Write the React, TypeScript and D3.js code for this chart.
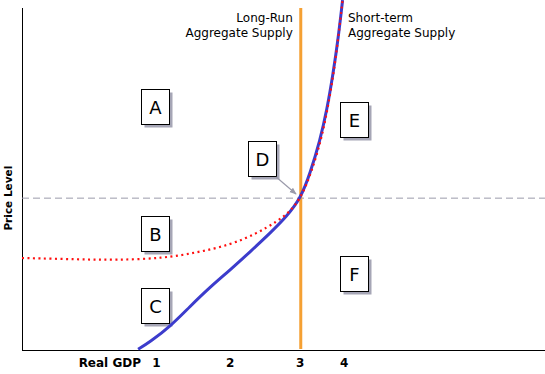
import React from 'react'
import * as d3 from 'd3'

// chart units: x 0..100 across the plot, y 0..100 up the plot
const gdpTicks = ['1', '2', '3', '4']
const gdpTickPos = [25.7, 39.8, 53.2, 61.6]

const lrasX = 53.3
const priceLevel = 44.4

// short-run aggregate supply (blue)
const srasX = [22.2, 24.5, 28.3, 32.1, 35.9, 39.8, 43.6, 47.4, 50.6, 53.3, 55.1, 57.0, 58.3, 59.5, 60.5, 61.3]
const srasY = [0.2, 2.4, 6.8, 12.7, 18.3, 23.4, 28.7, 34.1, 39.0, 44.4, 51.7, 61.4, 70.2, 80.9, 91.6, 102.3]

// dotted red curve
const dotX = [0, 11.1, 17.8, 27.0, 33.4, 39.8, 44.9, 48.7, 51.2, 53.3, 55.3, 57.2, 58.4, 59.6, 60.5, 61.3]
const dotY = [26.9, 26.5, 26.3, 26.8, 28.5, 30.7, 34.1, 37.5, 40.4, 44.4, 51.7, 61.4, 70.2, 80.9, 91.6, 102.3]

const boxLabels = ['A', 'B', 'C', 'D', 'E', 'F']
const boxX = [25.4, 25.4, 25.4, 45.9, 63.5, 63.5]
const boxY = [71.2, 34.1, 13.0, 56.1, 67.3, 22.5]

const arrowFrom = [48.6, 50.6]
const arrowTo = [52.4, 45.6]

function App() {
  const width = 545
  const height = 374
  const margin = { top: 8, right: 0, bottom: 24, left: 22 }
  const font = '"DejaVu Sans", Verdana, sans-serif'

  const x = d3.scaleLinear().domain([0, 100]).range([margin.left, width - margin.right])
  const y = d3.scaleLinear().domain([0, 100]).range([height - margin.bottom, margin.top])

  const curve = d3.line<[number, number]>()
    .x(d => x(d[0]))
    .y(d => y(d[1]))
    .curve(d3.curveBasis)

  const sras = curve(srasX.map((v, i) => [v, srasY[i]]))
  const dotted = curve(dotX.map((v, i) => [v, dotY[i]]))

  const bw = 28
  const bh = 35

  return (
    <svg width={width} height={height} style={{ position: 'absolute', left: 0, top: 0, background: '#fff' }}>
      <defs>
        <clipPath id="plot">
          <rect x={0} y={0} width={width} height={y(0) + 1} />
        </clipPath>
        <marker id="head" viewBox="0 0 10 10" refX="9" refY="5" markerWidth="6" markerHeight="6" orient="auto">
          <path d="M0,1 L10,5 L0,9 z" fill="#9a9aaa" />
        </marker>
      </defs>

      {/* axes */}
      <line x1={x(0)} x2={x(0)} y1={y(100)} y2={y(0)} stroke="#000" strokeWidth={1} shapeRendering="crispEdges" />
      <line x1={x(0)} x2={x(100)} y1={y(0) + 0.5} y2={y(0) + 0.5} stroke="#000" strokeWidth={1} shapeRendering="crispEdges" />

      {/* price level */}
      <line x1={x(0)} x2={x(100)} y1={y(priceLevel)} y2={y(priceLevel)} stroke="#9a9aaa" strokeWidth={1} strokeDasharray="7 4" />

      {/* boxes */}
      {boxLabels.map((b, i) => (
        <g key={b} transform={`translate(${Math.round(x(boxX[i]) - bw / 2)},${Math.round(y(boxY[i]) - bh / 2)})`}>
          <rect x={3.5} y={3.5} width={bw} height={bh} fill="#a6a6b6" />
          <rect x={0.5} y={0.5} width={bw} height={bh} fill="#fff" stroke="#000" strokeWidth={1} />
          <text x={bw / 2 + 0.5} y={bh / 2 + 7} textAnchor="middle" fontFamily={font} fontSize={18} fill="#000">{b}</text>
        </g>
      ))}

      {/* pointer to D */}
      <line x1={x(arrowFrom[0])} y1={y(arrowFrom[1])} x2={x(arrowTo[0])} y2={y(arrowTo[1])} stroke="#9a9aaa" strokeWidth={1.2} markerEnd="url(#head)" />

      {/* LRAS */}
      <line x1={x(lrasX)} x2={x(lrasX)} y1={y(100)} y2={y(0) - 1} stroke="#f5a033" strokeWidth={3} />

      <g clipPath="url(#plot)">
        <path d={sras || ''} fill="none" stroke="#3c3ccc" strokeWidth={3} />
        <path d={dotted || ''} fill="none" stroke="#ff1010" strokeWidth={2.2} strokeDasharray="2 3.5" />
      </g>

      {/* curve labels */}
      <text x={x(lrasX) - 8} y={22} textAnchor="end" fontFamily={font} fontSize={12} fill="#000">Long-Run</text>
      <text x={x(lrasX) - 8} y={37} textAnchor="end" fontFamily={font} fontSize={12} fill="#000">Aggregate Supply</text>
      <text x={348} y={22} fontFamily={font} fontSize={12} fill="#000">Short-term</text>
      <text x={348} y={37} fontFamily={font} fontSize={12} fill="#000">Aggregate Supply</text>

      {/* x labels */}
      <text x={141} y={367} textAnchor="end" fontFamily={font} fontSize={12} fontWeight="bold" fill="#000">Real GDP</text>
      {gdpTicks.map((t, i) => (
        <text key={t} x={x(gdpTickPos[i])} y={367} textAnchor="middle" fontFamily={font} fontSize={12} fontWeight="bold" fill="#000">{t}</text>
      ))}

      <text transform={`translate(12,${y(priceLevel)}) rotate(-90)`} textAnchor="middle" fontFamily={font} fontSize={10.5} fontWeight="bold" fill="#000">Price Level</text>
    </svg>
  )
}

export default App
